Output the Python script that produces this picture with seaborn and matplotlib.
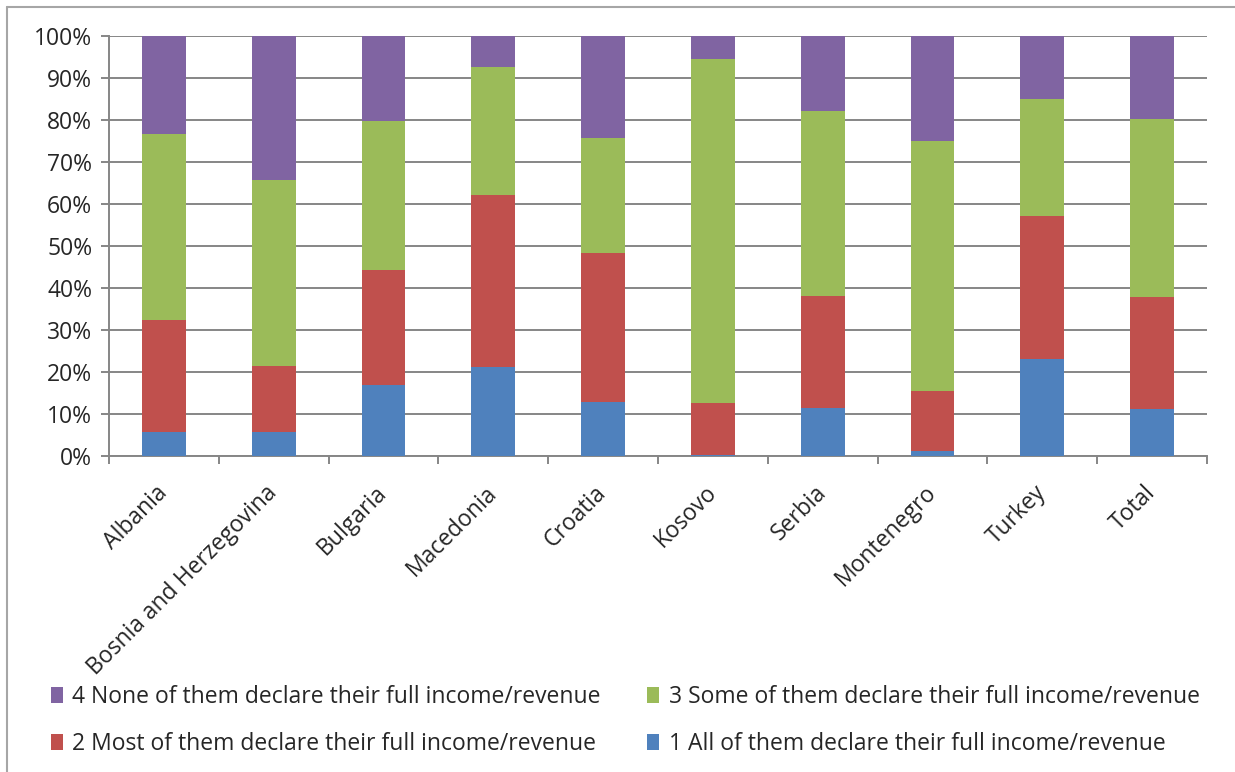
import seaborn as sns
import matplotlib.pyplot as plt
import numpy as np
from matplotlib.patches import Patch
from matplotlib.lines import Line2D

# Share of respondents (%) per answer
countries = ["Albania", "Bosnia and Herzegovina", "Bulgaria", "Macedonia", "Croatia",
             "Kosovo", "Serbia", "Montenegro", "Turkey", "Total"]
all_declare = [5.6, 5.8, 16.8, 21.1, 12.8, 0.2, 11.5, 1.1, 23.0, 11.3]
most_declare = [26.9, 15.7, 27.4, 41.1, 35.5, 12.5, 26.5, 14.3, 34.2, 26.6]
some_declare = [44.1, 44.3, 35.5, 30.4, 27.5, 81.9, 44.1, 59.7, 27.8, 42.3]
none_declare = [23.4, 34.2, 20.3, 7.4, 24.2, 5.4, 17.9, 24.9, 15.0, 19.8]

labels = ["1 All of them declare their full income/revenue",
          "2 Most of them declare their full income/revenue",
          "3 Some of them declare their full income/revenue",
          "4 None of them declare their full income/revenue"]
colors = ["#4F81BD", "#C0504D", "#9BBB59", "#8064A2"]

sns.set_style("white")
plt.rcParams["font.family"] = ["Open Sans", "DejaVu Sans"]

fig = plt.figure(figsize=(12.35, 7.72), dpi=100)
ax = fig.add_axes([109 / 1235, 1 - 456 / 772, (1207 - 109) / 1235, (456 - 36) / 772])

# stacked bars: draw cumulative totals from the top segment down
segments = [all_declare, most_declare, some_declare, none_declare]
cum = np.cumsum(np.array(segments), axis=0)
for i in range(3, -1, -1):
    sns.barplot(x=countries, y=cum[i], color=colors[i], width=0.4,
                saturation=1, linewidth=0, ax=ax, zorder=3)

ax.set_xlim(-0.5, len(countries) - 0.5)
ax.set_ylim(0, 100)
ax.set_yticks(np.arange(0, 101, 10))
ax.set_yticklabels([f"{v}%" for v in range(0, 101, 10)], fontsize=16.5)
ax.yaxis.grid(True, color="#868686", linewidth=1.4, zorder=0)
ax.set_axisbelow(True)

ax.set_xticks(range(len(countries)))
ax.set_xticklabels(countries, rotation=45, ha="right", va="center",
                   rotation_mode="anchor", fontsize=16.5)
ax.tick_params(axis="x", which="major", length=0, pad=24)
ax.set_xticks(np.arange(-0.5, len(countries), 1), minor=True)
ax.tick_params(axis="x", which="minor", length=6, width=1.4, color="#868686",
               direction="out", bottom=True)
ax.tick_params(axis="y", length=6, width=1.4, color="#868686", direction="out",
               left=True, pad=6)
ax.set_xlabel("")
ax.set_ylabel("")

for s in ["top", "right"]:
    ax.spines[s].set_visible(False)
for s in ["left", "bottom"]:
    ax.spines[s].set_color("#868686")
    ax.spines[s].set_linewidth(1.4)

order = [3, 1, 2, 0]
handles = [Patch(facecolor=colors[i], edgecolor="none") for i in order]
fig.legend(handles, [labels[i] for i in order], ncol=2, loc="upper left",
           bbox_to_anchor=(30 / 1235, 1 - 664 / 772), frameon=False,
           fontsize=16.5, handlelength=0.55, handleheight=0.7, handletextpad=0.4,
           columnspacing=2.0, labelspacing=1.0)

# outer chart border (left and top edges visible)
fig.add_artist(Line2D([7 / 1235, 7 / 1235], [0, 1 - 7 / 772], color="#a6a6a6",
                      linewidth=1.5, transform=fig.transFigure))
fig.add_artist(Line2D([7 / 1235, 1], [1 - 7 / 772, 1 - 7 / 772], color="#a6a6a6",
                      linewidth=1.5, transform=fig.transFigure))

fig.savefig("out.png", dpi=100)
plt.close(fig)
